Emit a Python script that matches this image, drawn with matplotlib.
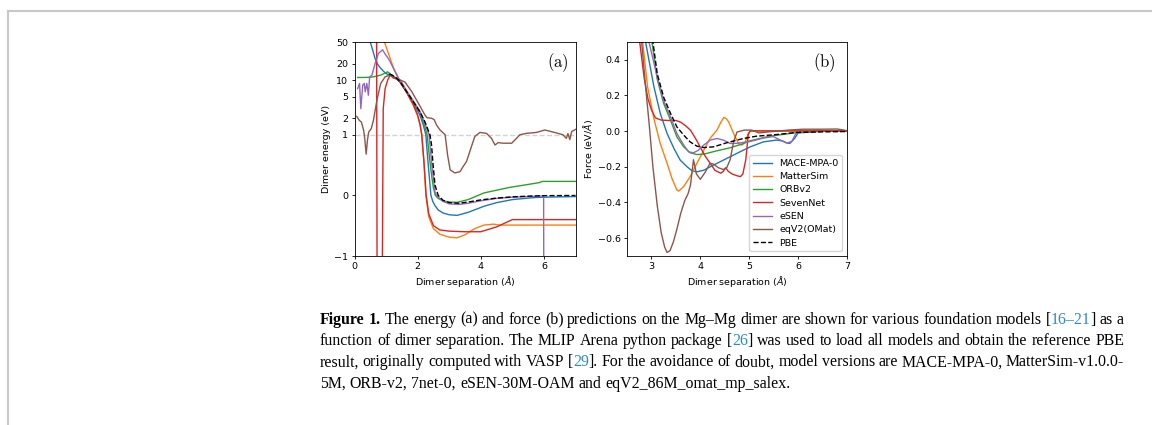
import numpy as np
import matplotlib
matplotlib.use("Agg")
import matplotlib.pyplot as plt
from matplotlib.lines import Line2D
from matplotlib.font_manager import FontProperties
from matplotlib.ticker import FixedLocator, FixedFormatter, NullLocator

# ---------------- data: panel (a) energy ----------------
mace_e_x = [0.45, 0.50, 0.58, 0.65, 0.72, 0.81, 0.92, 1.02, 1.13, 1.3, 1.44, 1.65, 1.86, 2.07, 2.18, 2.26, 2.32, 2.37, 2.42, 2.48, 2.55, 2.65, 2.8, 3.0, 3.25, 3.6, 4.1, 4.5, 5.0, 5.5, 5.75, 6.0, 6.5, 7.0]
mace_e_y = [70, 50, 35, 25, 20, 17, 14.5, 13, 12.3, 11, 9.2, 6.0, 3.8, 2.3, 1.5, 1.0, 0.6, 0.3, 0.0, -0.1, -0.17, -0.24, -0.29, -0.32, -0.33, -0.28, -0.18, -0.12, -0.07, -0.045, -0.035, -0.03, -0.025, -0.02]

msim_e_x = [0.86, 0.94, 1.02, 1.1, 1.18, 1.26, 1.34, 1.44, 1.55, 1.65, 1.86, 2.0, 2.08, 2.13, 2.2, 2.26, 2.35, 2.5, 2.7, 3.0, 3.25, 3.5, 3.8, 4.1, 4.4, 4.6, 5.0, 7.0]
msim_e_y = [80, 52, 38, 28, 20.5, 15.5, 12.5, 9.5, 7.5, 6.0, 3.5, 2.2, 1.5, 1.0, 0.55, 0.0, -0.35, -0.55, -0.64, -0.69, -0.70, -0.65, -0.55, -0.49, -0.475, -0.49, -0.49, -0.49]

orb_e_x = [0.1, 0.3, 0.5, 0.7, 0.85, 0.95, 1.05, 1.13, 1.3, 1.44, 1.65, 1.86, 2.07, 2.2, 2.3, 2.38, 2.45, 2.5, 2.56, 2.65, 2.8, 3.0, 3.25, 3.6, 4.1, 4.9, 5.5, 5.85, 5.95, 7.0]
orb_e_y = [11.2, 11.2, 11.3, 11.8, 12.5, 13.3, 14.2, 13, 11, 9.4, 6.1, 4.0, 2.6, 1.6, 1.0, 0.6, 0.3, 0.12, 0.0, -0.05, -0.09, -0.11, -0.115, -0.07, 0.04, 0.13, 0.18, 0.21, 0.23, 0.23]

sevn_e_x = [0.66, 0.70, 0.72, 0.86, 0.88, 0.91, 0.97, 1.05, 1.13, 1.3, 1.44, 1.65, 1.86, 2.0, 2.08, 2.13, 2.2, 2.27, 2.35, 2.5, 2.7, 3.0, 3.5, 4.0, 4.5, 5.0, 7.0]
sevn_e_y = [300, 80, -80, -80, -2, 3, 7.0, 10, 12.4, 11, 9.3, 6.0, 3.6, 2.3, 1.5, 1.0, 0.55, 0.0, -0.3, -0.5, -0.57, -0.59, -0.6, -0.6, -0.52, -0.40, -0.40]

esen_e_x = [0.1, 0.16, 0.2, 0.26, 0.31, 0.34, 0.39, 0.44, 0.48, 0.55, 0.65, 0.76, 0.89, 0.97, 1.07, 1.13, 1.23, 1.39, 1.5, 1.65, 1.86, 2.07, 2.2, 2.36, 2.45, 2.55, 2.6, 2.8, 3.0, 3.3, 3.6, 4.0, 4.5, 5.0, 5.5, 5.99, 6.0, 7.0]
esen_e_y = [7, 8.7, 3.0, 8.1, 8.7, 6.1, 8.7, 5.3, 11.5, 12.3, 20, 31, 36, 30, 25, 21.7, 16.6, 10.9, 9.0, 6.4, 4.2, 2.7, 1.8, 1.0, 0.5, 0.05, 0.0, -0.1, -0.14, -0.15, -0.13, -0.09, -0.05, -0.03, -0.02, -0.01, -50, -50]

eqv2_e_x = [0.07, 0.15, 0.22, 0.29, 0.32, 0.37, 0.41, 0.45, 0.53, 0.60, 0.71, 0.83, 0.97, 1.13, 1.23, 1.44, 1.6, 1.81, 2.02, 2.23, 2.3, 2.44, 2.52, 2.60, 2.71, 2.87, 2.95, 3.03, 3.18, 3.34, 3.44, 3.55, 3.65, 3.81, 3.97, 4.18, 4.34, 4.45, 4.55, 4.71, 4.98, 5.13, 5.24, 5.45, 5.76, 6.03, 6.29, 6.6, 6.71, 6.76, 6.82, 6.88, 6.95, 7.0]
eqv2_e_y = [2.17, 1.84, 1.7, 1.2, 0.96, 0.68, 0.91, 1.12, 1.29, 1.84, 4.3, 8.7, 11.5, 12.4, 10.9, 10.1, 9.2, 6.2, 3.8, 2.3, 2.05, 2.0, 1.9, 1.5, 1.22, 1.0, 0.66, 0.42, 0.37, 0.39, 0.475, 0.56, 0.72, 0.97, 1.10, 1.06, 0.94, 0.83, 0.87, 0.86, 0.86, 0.94, 1.0, 1.06, 1.1, 1.22, 1.12, 1.0, 0.94, 1.05, 0.92, 1.15, 1.2, 1.25]

pbe_e_x = [1.1, 1.2, 1.3, 1.44, 1.65, 1.86, 2.07, 2.23, 2.39, 2.44, 2.49, 2.55, 2.65, 2.8, 3.0, 3.3, 3.6, 4.0, 4.5, 5.0, 5.5, 6.0, 7.0]
pbe_e_y = [13, 12.3, 11.3, 9.5, 6.2, 4.05, 2.65, 1.73, 1.0, 0.83, 0.5, 0.17, 0.0, -0.08, -0.12, -0.13, -0.11, -0.075, -0.045, -0.025, -0.013, -0.005, -0.002]

# ---------------- data: panel (b) force ----------------
mace_f_x = [2.85, 2.88, 3.05, 3.18, 3.32, 3.46, 3.59, 3.73, 3.83, 3.93, 4.07, 4.27, 4.54, 4.81, 5.02, 5.29, 5.56, 5.68, 5.76, 5.83, 5.93, 6.0, 6.5, 7.0]
mace_f_y = [0.6, 0.5, 0.25, 0.10, -0.013, -0.097, -0.163, -0.2, -0.222, -0.228, -0.219, -0.19, -0.153, -0.116, -0.088, -0.06, -0.05, -0.055, -0.065, -0.069, -0.04, -0.01, 0.0, 0.0]

msim_f_x = [2.79, 2.82, 2.92, 3.05, 3.18, 3.32, 3.42, 3.52, 3.56, 3.66, 3.79, 3.93, 4.07, 4.2, 4.34, 4.42, 4.48, 4.53, 4.58, 4.68, 4.78, 4.85, 4.92, 4.98, 5.02, 6.0, 7.0]
msim_f_y = [0.6, 0.5, 0.25, 0.07, -0.069, -0.18, -0.265, -0.33, -0.336, -0.31, -0.256, -0.18, -0.107, -0.04, 0.006, 0.05, 0.077, 0.07, 0.052, -0.013, -0.069, -0.078, -0.06, -0.013, 0.0, 0.0, 0.0]

orb_f_x = [2.98, 3.01, 3.12, 3.25, 3.39, 3.52, 3.66, 3.79, 3.93, 4.07, 4.34, 4.61, 4.88, 5.0, 5.42, 6.0, 6.5, 7.0]
orb_f_y = [0.6, 0.5, 0.29, 0.155, 0.062, -0.032, -0.088, -0.121, -0.131, -0.129, -0.11, -0.093, -0.07, -0.055, -0.028, -0.007, 0.0, 0.0]

sevn_f_x = [2.74, 2.76, 2.85, 2.93, 3.0, 3.08, 3.2, 3.35, 3.5, 3.6, 3.7, 3.8, 3.9, 4.0, 4.1, 4.2, 4.3, 4.42, 4.47, 4.52, 4.57, 4.65, 4.75, 4.82, 4.87, 4.93, 4.98, 5.02, 6.0, 7.0]
sevn_f_y = [0.6, 0.5, 0.3, 0.18, 0.12, 0.075, 0.062, 0.06, 0.06, 0.05, 0.03, 0.005, -0.04, -0.09, -0.14, -0.18, -0.22, -0.236, -0.225, -0.205, -0.225, -0.24, -0.25, -0.255, -0.24, -0.16, -0.02, 0.002, 0.002, 0.002]

esen_f_x = [2.92, 2.95, 3.12, 3.25, 3.39, 3.52, 3.66, 3.76, 3.86, 3.96, 4.07, 4.2, 4.34, 4.47, 4.61, 4.75, 5.02, 5.29, 5.49, 5.63, 5.77, 5.87, 5.94, 6.0]
esen_f_y = [0.6, 0.5, 0.30, 0.17, 0.08, -0.013, -0.078, -0.116, -0.121, -0.107, -0.078, -0.05, -0.041, -0.05, -0.069, -0.068, -0.058, -0.039, -0.03, -0.049, -0.067, -0.058, -0.02, 0.0]

eqv2_f_x = [2.77, 2.80, 2.88, 2.95, 3.03, 3.12, 3.2, 3.27, 3.32, 3.38, 3.45, 3.52, 3.6, 3.68, 3.75, 3.8, 3.86, 3.92, 4.0, 4.1, 4.2, 4.27, 4.37, 4.47, 4.54, 4.61, 4.68, 4.75, 4.9, 5.05, 5.2, 5.4, 5.8, 6.1, 6.5, 6.8, 7.0]
eqv2_f_y = [0.6, 0.5, 0.25, 0.05, -0.2, -0.42, -0.57, -0.65, -0.68, -0.67, -0.62, -0.55, -0.46, -0.39, -0.35, -0.30, -0.16, -0.24, -0.27, -0.23, -0.18, -0.185, -0.205, -0.215, -0.205, -0.16, -0.06, -0.005, 0.006, 0.006, -0.01, -0.004, 0.006, 0.011, 0.011, 0.012, 0.003]

pbe_f_x = [3.0, 3.03, 3.12, 3.25, 3.39, 3.52, 3.66, 3.79, 3.93, 4.07, 4.27, 4.54, 4.88, 5.15, 5.56, 5.97, 6.51, 7.0]
pbe_f_y = [0.6, 0.5, 0.32, 0.19, 0.10, 0.024, -0.022, -0.06, -0.084, -0.092, -0.088, -0.065, -0.041, -0.028, -0.019, -0.007, -0.004, -0.002]

model_names = ["MACE-MPA-0", "MatterSim", "ORBv2", "SevenNet", "eSEN", "eqV2(OMat)"]
model_colors = ["#1f77b4", "#ff7f0e", "#2ca02c", "#d62728", "#9467bd", "#8c564b"]
energy_series = [(mace_e_x, mace_e_y), (msim_e_x, msim_e_y), (orb_e_x, orb_e_y),
                 (sevn_e_x, sevn_e_y), (esen_e_x, esen_e_y), (eqv2_e_x, eqv2_e_y)]
force_series = [(mace_f_x, mace_f_y), (msim_f_x, msim_f_y), (orb_f_x, orb_f_y),
                (sevn_f_x, sevn_f_y), (esen_f_x, esen_f_y), (eqv2_f_x, eqv2_f_y)]

energy_ticks = [-1, 0, 1, 2, 5, 10, 20, 50]
energy_ticklabels = ["\u22121", "0", "1", "2", "5", "10", "20", "50"]
force_ticks = [-0.6, -0.4, -0.2, 0.0, 0.2, 0.4]
xticks_a = [0, 2, 4, 6]
xticks_b = [3, 4, 5, 6, 7]

# ---------------- figure ----------------
W, H = 1152, 425
fig = plt.figure(figsize=(W / 100, H / 100), dpi=100)
fs = 6.8
plt.rcParams.update({"font.size": fs, "axes.linewidth": 0.6,
                     "xtick.major.width": 0.6, "ytick.major.width": 0.6,
                     "xtick.major.size": 2.5, "ytick.major.size": 2.5,
                     "xtick.major.pad": 2, "ytick.major.pad": 2})

def ax_rect(l, r, t, b):
    return [l / W, 1 - b / H, (r - l) / W, (b - t) / H]

ax1 = fig.add_axes(ax_rect(354.5, 575.5, 42, 256))
ax2 = fig.add_axes(ax_rect(627, 847, 42, 256))

lw = 1.0
for (xs, ys), c in zip(energy_series, model_colors):
    ax1.plot(xs, ys, color=c, lw=lw)
ax1.plot(pbe_e_x, pbe_e_y, color="k", ls="--", lw=lw)
ax1.axhline(1, color="lightgray", ls="--", lw=1.0, zorder=0)
ax1.set_yscale("symlog", linthresh=1)
ax1.set_ylim(-1, 50)
ax1.set_xlim(0, 7)
ax1.yaxis.set_major_locator(FixedLocator(energy_ticks))
ax1.yaxis.set_major_formatter(FixedFormatter(energy_ticklabels))
ax1.yaxis.set_minor_locator(NullLocator())
ax1.set_xticks(xticks_a)
ax1.set_xlabel("Dimer separation ($\\AA$)", fontsize=fs, labelpad=2)
ax1.set_ylabel("Dimer energy (eV)", fontsize=fs, labelpad=2)
ax1.text(0.92, 0.905, r"$\mathrm{(a)}$", transform=ax1.transAxes, fontsize=12,
         math_fontfamily="cm", ha="center", va="center")

for (xs, ys), c, n in zip(force_series, model_colors, model_names):
    ax2.plot(xs, ys, color=c, lw=lw, label=n)
ax2.plot(pbe_f_x, pbe_f_y, color="k", ls="--", lw=lw, label="PBE")
ax2.set_xlim(2.5, 7)
ax2.set_ylim(-0.7, 0.5)
ax2.set_yticks(force_ticks)
ax2.set_xticks(xticks_b)
ax2.set_xlabel("Dimer separation ($\\AA$)", fontsize=fs, labelpad=2)
ax2.set_ylabel("Force (eV/$\\AA$)", fontsize=fs, labelpad=2)
ax2.text(0.895, 0.905, r"$\mathrm{(b)}$", transform=ax2.transAxes, fontsize=12,
         math_fontfamily="cm", ha="center", va="center")
ax2.legend(loc="lower right", fontsize=fs, borderaxespad=0.5, handlelength=2.0,
           labelspacing=0.45, borderpad=0.4)

for ax in (ax1, ax2):
    ax.tick_params(labelsize=fs)

# ---------------- border ----------------
gray = "#c8c8c8"
fig.add_artist(Line2D([8 / W, 8 / W], [0, 1 - 11 / H], transform=fig.transFigure, color=gray, lw=1.5))
fig.add_artist(Line2D([8 / W, 1.0], [1 - 11 / H, 1 - 11 / H], transform=fig.transFigure, color=gray, lw=1.5))

# ---------------- caption ----------------
blue = "#2a8ccb"
caption_lines = [
    [[("Figure", "b")], [("1.", "b")], [("The", "n")], [("energy", "n")], [("(a)", "n")], [("and", "n")],
     [("force", "n")], [("(b)", "n")], [("predictions", "n")], [("on", "n")], [("the", "n")],
     [("Mg\u2013Mg", "n")], [("dimer", "n")], [("are", "n")], [("shown", "n")], [("for", "n")],
     [("various", "n")], [("foundation", "n")], [("models", "n")],
     [("[", "n"), ("16\u201321", "c"), ("]", "n")], [("as", "n")], [("a", "n")]],
    [[(w, "n")] for w in "function of dimer separation. The MLIP Arena python package".split()]
    + [[("[", "n"), ("26", "c"), ("]", "n")]]
    + [[(w, "n")] for w in "was used to load all models and obtain the reference PBE".split()],
    [[(w, "n")] for w in "result, originally computed with VASP".split()]
    + [[("[", "n"), ("29", "c"), ("].", "n")]]
    + [[(w, "n")] for w in "For the avoidance of doubt, model versions are MACE-MPA-0, MatterSim-v1.0.0-".split()],
    [[(w, "n")] for w in "5M, ORB-v2, 7net-0, eSEN-30M-OAM and eqV2_86M_omat_mp_salex.".split()],
]

renderer = fig.canvas.get_renderer()
cap_family = "Liberation Serif"

def props(style, size):
    return FontProperties(family=cap_family, size=size, weight="bold" if style == "b" else "normal")

def seg_w(text, style, size):
    w, h, d = renderer.get_text_width_height_descent(text, props(style, size), ismath=False)
    return w

def word_w(word, size):
    return sum(seg_w(t, s, size) for t, s in word)

# choose font size so that the first line naturally fits the column
x_left, x_right = 320.0, 1124.0
base = 12.0
sp = seg_w(" ", "n", base)
nat = sum(word_w(wd, base) for wd in caption_lines[0]) + sp * (len(caption_lines[0]) - 1)
cap_size = base * (x_right - x_left) / nat * 1.0

baselines = [323.5, 345.0, 366.5, 388.0]
for li, (line, yb) in enumerate(zip(caption_lines, baselines)):
    widths = [word_w(wd, cap_size) for wd in line]
    space = seg_w(" ", "n", cap_size)
    if li < len(caption_lines) - 1:
        space = (x_right - x_left - sum(widths)) / (len(line) - 1)
    x = x_left
    for wd, wdw in zip(line, widths):
        xx = x
        for t, s in wd:
            fig.text(xx / W, 1 - yb / H, t, fontproperties=props(s, cap_size),
                     color=blue if s == "c" else "black", ha="left", va="baseline")
            xx += seg_w(t, s, cap_size)
        x += wdw + space

fig.savefig("out.png", dpi=100)
